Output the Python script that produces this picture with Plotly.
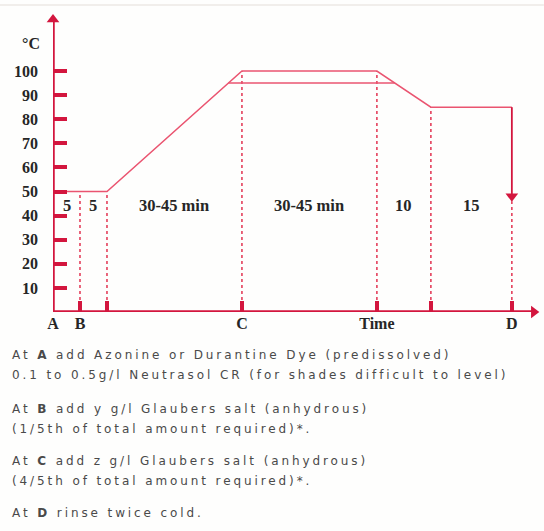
import plotly.graph_objects as go

# ---------------- data ----------------
step_times = [0, 5, 10, 35, 60, 70, 85]          # schematic elapsed time (A, B, ..., D)
profile_temp = [50, 50, 50, 100, 100, 85, 85]     # upper dyeing profile (°C)
hold95_times = [32.5, 63.3]                       # alternative 95 °C hold
hold95_temp = [95, 95]
drop_times = [85, 85]                             # final cooling / rinse drop at D
drop_temp = [85, 48]
guide_times = [5, 10, 35, 60, 70, 85]             # dotted guide lines
guide_top = [50, 50, 100, 100, 85, 46]
segment_mid = [2.5, 7.5, 22.5, 47.5, 65, 77.5]
segment_labels = ["5", "5", "30-45 min", "30-45 min", "10", "15"]
y_ticks = [10, 20, 30, 40, 50, 60, 70, 80, 90, 100]
x_tick_vals = [0, 5, 10, 35, 60, 70, 85]
x_tick_text = ["A", "B", "", "C", "Time", "", "D"]
notes = [
    "At <b>A</b> add Azonine or Durantine Dye (predissolved)",
    "0.1 to 0.5g/l Neutrasol CR (for shades difficult to level)",
    "At <b>B</b> add y g/l Glaubers salt (anhydrous)",
    "(1/5th of total amount required)*.",
    "At <b>C</b> add z g/l Glaubers salt (anhydrous)",
    "(4/5th of total amount required)*.",
    "At <b>D</b> rinse twice cold.",
]
note_rows_px = [355, 375, 409, 429, 461, 481, 513]

# ---------------- style ----------------
AXIS = "#d3163e"
LINE = "#ea5470"
DOT = "#e4405c"
SERIF = "Liberation Serif"
W, H = 544, 531
L, B = 53, 312            # pixel position of the origin
XS, YS = 5.4, 2.41        # pixels per unit
X_MAX, Y_MAX = 90.4, 124.5
PW, PH = X_MAX * XS, Y_MAX * YS

def paper_x(p):
    return (p - L) / PW

def paper_y(p):
    return (B - p) / PH

def data_x(p):
    return (p - L) / XS

def data_y(p):
    return (B - p) / YS

fig = go.Figure()

# dotted guide lines
for t, top in zip(guide_times, guide_top):
    fig.add_trace(go.Scatter(x=[t, t], y=[0, top], mode="lines",
                             line=dict(color=DOT, width=1.6, dash="dot"),
                             hoverinfo="skip", showlegend=False))

# profile lines
fig.add_trace(go.Scatter(x=step_times, y=profile_temp, mode="lines",
                         line=dict(color=LINE, width=1.5), showlegend=False))
fig.add_trace(go.Scatter(x=hold95_times, y=hold95_temp, mode="lines",
                         line=dict(color=LINE, width=1.5), showlegend=False))
fig.add_trace(go.Scatter(x=drop_times, y=drop_temp, mode="lines",
                         line=dict(color=AXIS, width=1.8), showlegend=False))
fig.add_trace(go.Scatter(x=[drop_times[-1]], y=[drop_temp[-1]], mode="markers",
                         marker=dict(symbol="triangle-down", size=11, color=AXIS),
                         showlegend=False, cliponaxis=False))

# axis lines with arrowheads
fig.add_trace(go.Scatter(x=[0, 0], y=[0, data_y(22)], mode="lines",
                         line=dict(color=AXIS, width=3.5), showlegend=False))
fig.add_trace(go.Scatter(x=[0, data_x(533)], y=[0, 0], mode="lines",
                         line=dict(color=AXIS, width=3.5), showlegend=False))
fig.add_trace(go.Scatter(x=[0], y=[data_y(19.5)], mode="markers",
                         marker=dict(symbol="triangle-up", size=11, color=AXIS),
                         showlegend=False, cliponaxis=False))
fig.add_trace(go.Scatter(x=[data_x(534)], y=[0], mode="markers",
                         marker=dict(symbol="triangle-right", size=11, color=AXIS),
                         showlegend=False, cliponaxis=False))

# segment duration labels
for xm, lab in zip(segment_mid, segment_labels):
    fig.add_annotation(x=xm, y=44, text=lab, showarrow=False,
                       xanchor="center", yanchor="middle",
                       font=dict(family=SERIF, size=16.5, color="#262626", weight="bold"))

# °C label
fig.add_annotation(x=paper_x(31), y=paper_y(43), xref="paper", yref="paper",
                   text="°C", showarrow=False, xanchor="center", yanchor="middle",
                   font=dict(family=SERIF, size=16, color="#262626", weight="bold"))

# notes below the chart
for txt, py in zip(notes, note_rows_px):
    fig.add_annotation(x=paper_x(10), y=paper_y(py), xref="paper", yref="paper",
                       text=txt, showarrow=False,
                       xanchor="left", yanchor="middle", align="left",
                       font=dict(family="DejaVu Sans", size=12, color="#4a4a4a"))

fig.add_shape(type="line", xref="paper", yref="paper",
              x0=paper_x(0), x1=paper_x(W), y0=paper_y(5), y1=paper_y(5),
              line=dict(color="#ece8e4", width=1.5))

fig.update_layout(
    width=W, height=H,
    margin=dict(l=L, b=H - B, r=W - L - PW, t=B - PH, pad=0),
    paper_bgcolor="#fefefd", plot_bgcolor="rgba(0,0,0,0)",
    showlegend=False,
    xaxis=dict(range=[0, X_MAX], showgrid=False, zeroline=False, showline=False,
               ticks="inside", ticklen=11, tickwidth=3.5, tickcolor=AXIS,
               tickvals=x_tick_vals, ticktext=x_tick_text,
               tickfont=dict(family=SERIF, size=16, color="#262626", weight="bold"),
               ticklabelstandoff=0, fixedrange=True),
    yaxis=dict(range=[0, Y_MAX], showgrid=False, zeroline=False, showline=False,
               ticks="inside", ticklen=14, tickwidth=3.5, tickcolor=AXIS,
               tickvals=y_ticks,
               tickfont=dict(family=SERIF, size=16, color="#262626", weight="bold"),
               ticklabelstandoff=14, fixedrange=True),
)

post = """
document.body.style.margin = '0';
document.querySelectorAll('.annotation-text').forEach(function(t){
  if ((t.style.fontFamily || '').indexOf('DejaVu Sans') >= 0) {
    t.style.letterSpacing = '2.9px';
  }
});
"""

fig.write_html("out.html", post_script=post, config={"displayModeBar": False})
